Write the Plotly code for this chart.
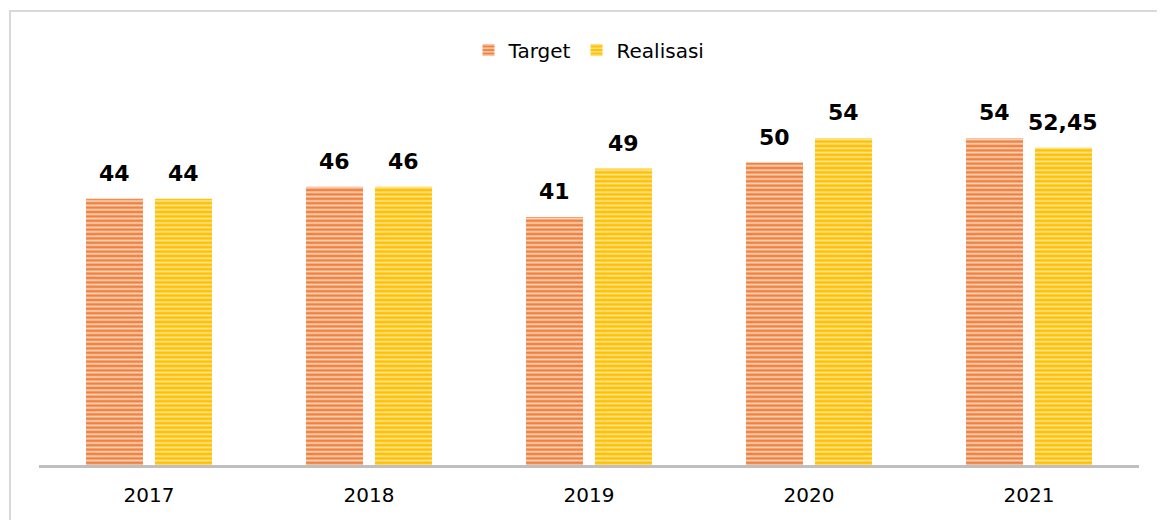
import plotly.graph_objects as go

years = ["2017", "2018", "2019", "2020", "2021"]
target = [44, 46, 41, 50, 54]
realisasi = [44, 46, 49, 54, 52.45]
target_labels = ["44", "46", "41", "50", "54"]
realisasi_labels = ["44", "46", "49", "54", "52,45"]

# page body has an 8px margin, so the figure is drawn 8px smaller
W, H = 1157, 512
ml, mr, mt, mb = 31, 26, 94, 55
pw = W - ml - mr
ph = H - mt - mb

fig = go.Figure()
fig.add_trace(go.Bar(
    x=years, y=target, name="Target",
    marker=dict(color="#ef8240", line=dict(width=0),
                pattern=dict(shape="-", fillmode="overlay", fgcolor="#fcd6bd", fgopacity=1,
                             size=4.4, solidity=0.4)),
))
fig.add_trace(go.Bar(
    x=years, y=realisasi, name="Realisasi",
    marker=dict(color="#ffc000", line=dict(width=0),
                pattern=dict(shape="-", fillmode="overlay", fgcolor="#ffe596", fgopacity=1,
                             size=4.4, solidity=0.4)),
))

offset = pw / 5 * (1 - 0.373) / 4
for series, labels, sign in ((target, target_labels, -1), (realisasi, realisasi_labels, 1)):
    for i, (v, lab) in enumerate(zip(series, labels)):
        fig.add_annotation(x=i, y=v, text=f"<b>{lab}</b>", showarrow=False,
                           xshift=sign * offset, yshift=11, yanchor="bottom",
                           font=dict(family="DejaVu Sans", size=22, color="#000000"))

fig.add_shape(type="rect", xref="paper", yref="paper",
              x0=(2 - ml) / pw, x1=(W + 5 - ml) / pw,
              y0=-(H + 5 - mt - ph) / ph, y1=1 + (mt - 3) / ph,
              line=dict(color="#d9d9d9", width=2), layer="below")

fig.update_layout(
    width=W, height=H,
    margin=dict(l=ml, r=mr, t=mt, b=mb),
    paper_bgcolor="white", plot_bgcolor="white",
    barmode="group", bargap=0.373, bargroupgap=0.174,
    font=dict(family="DejaVu Sans", color="#000000"),
    showlegend=True,
    legend=dict(orientation="h", x=0.5, xanchor="center", y=1 + (mt - 42) / ph, yanchor="middle",
                font=dict(size=20, family="DejaVu Sans"), itemwidth=30, traceorder="normal"),
    xaxis=dict(type="category", range=[-0.5, 4.5], showline=True, linecolor="#bfbfbf", linewidth=3, ticks="",
               ticklabelstandoff=10,
               tickfont=dict(size=20, family="DejaVu Sans", color="#000000"), showgrid=False),
    yaxis=dict(range=[0, 60], visible=False, showgrid=False, zeroline=False),
)

fig.write_html("out.html")
